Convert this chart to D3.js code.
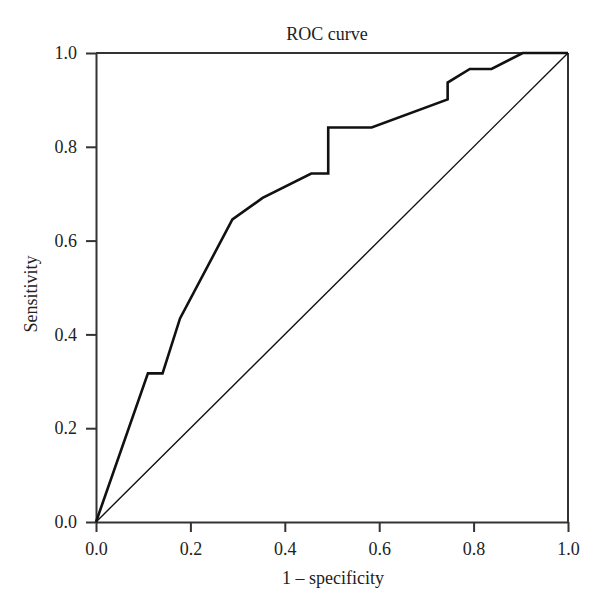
<!DOCTYPE html>
<html>
<head>
<meta charset="utf-8">
<script src="https://cdn.jsdelivr.net/npm/d3@7"></script>
<style>
  body { margin: 0; background: #fff; }
  svg { display: block; }
  text { font-family: "Liberation Serif", "DejaVu Serif", serif; fill: #222; }
</style>
</head>
<body>
<svg id="chart" width="600" height="613"></svg>
<script>
// Data
const fpr = [0, 0.110, 0.141, 0.178, 0.289, 0.353, 0.456, 0.492, 0.492, 0.584, 0.745, 0.745, 0.792, 0.838, 0.904, 1.0];
const tpr = [0, 0.317, 0.317, 0.434, 0.645, 0.691, 0.743, 0.743, 0.841, 0.841, 0.901, 0.937, 0.966, 0.966, 1.0, 1.0];
const refX = [0, 1];
const refY = [0, 1];
const tickValues = [0, 0.2, 0.4, 0.6, 0.8, 1.0];
const tickLabels = ["0.0", "0.2", "0.4", "0.6", "0.8", "1.0"];
const titleText = "ROC curve";
const xLabel = "1 \u2013 specificity";
const yLabel = "Sensitivity";

const svg = d3.select("#chart");
const mLeft = 96, mRight = 568, mTop = 53, mBottom = 522;

const x = d3.scaleLinear().domain([0, 1]).range([mLeft, mRight]);
const y = d3.scaleLinear().domain([0, 1]).range([mBottom, mTop]);

const axisColor = "#333";

// frame top and right
svg.append("line").attr("x1", mLeft).attr("x2", mRight).attr("y1", mTop).attr("y2", mTop)
  .attr("stroke", axisColor).attr("stroke-width", 2);
svg.append("line").attr("x1", mRight).attr("x2", mRight).attr("y1", mTop).attr("y2", mBottom)
  .attr("stroke", axisColor).attr("stroke-width", 2);

const fmt = (d) => tickLabels[tickValues.indexOf(d)];

const xAxis = svg.append("g").attr("transform", `translate(0,${mBottom})`)
  .call(d3.axisBottom(x).tickValues(tickValues).tickFormat(fmt).tickSize(10).tickSizeOuter(0).tickPadding(10));
const yAxis = svg.append("g").attr("transform", `translate(${mLeft},0)`)
  .call(d3.axisLeft(y).tickValues(tickValues).tickFormat(fmt).tickSize(10).tickSizeOuter(0).tickPadding(9));

[xAxis, yAxis].forEach(g => {
  g.select(".domain").attr("stroke", axisColor).attr("stroke-width", 2);
  g.selectAll(".tick line").attr("stroke", axisColor).attr("stroke-width", 2);
  g.selectAll(".tick text").attr("font-family", "Liberation Serif, DejaVu Serif, serif")
    .attr("font-size", 18).attr("fill", "#222");
});

// diagonal reference
svg.append("path")
  .datum(refX.map((v, i) => [v, refY[i]]))
  .attr("d", d3.line().x(d => x(d[0])).y(d => y(d[1])))
  .attr("fill", "none").attr("stroke", "#111").attr("stroke-width", 1.4);

// ROC curve
svg.append("path")
  .datum(fpr.map((v, i) => [v, tpr[i]]))
  .attr("d", d3.line().x(d => x(d[0])).y(d => y(d[1])))
  .attr("fill", "none").attr("stroke", "#111").attr("stroke-width", 2.6)
  .attr("stroke-linejoin", "miter");

// Title
svg.append("text").attr("x", 327).attr("y", 40).attr("text-anchor", "middle")
  .attr("font-size", 18).text(titleText);

// X label
svg.append("text").attr("x", 333).attr("y", 584).attr("text-anchor", "middle")
  .attr("font-size", 18).text(xLabel);

// Y label
svg.append("text").attr("transform", "translate(37,294) rotate(-90)")
  .attr("text-anchor", "middle").attr("font-size", 18).text(yLabel);
</script>
</body>
</html>
